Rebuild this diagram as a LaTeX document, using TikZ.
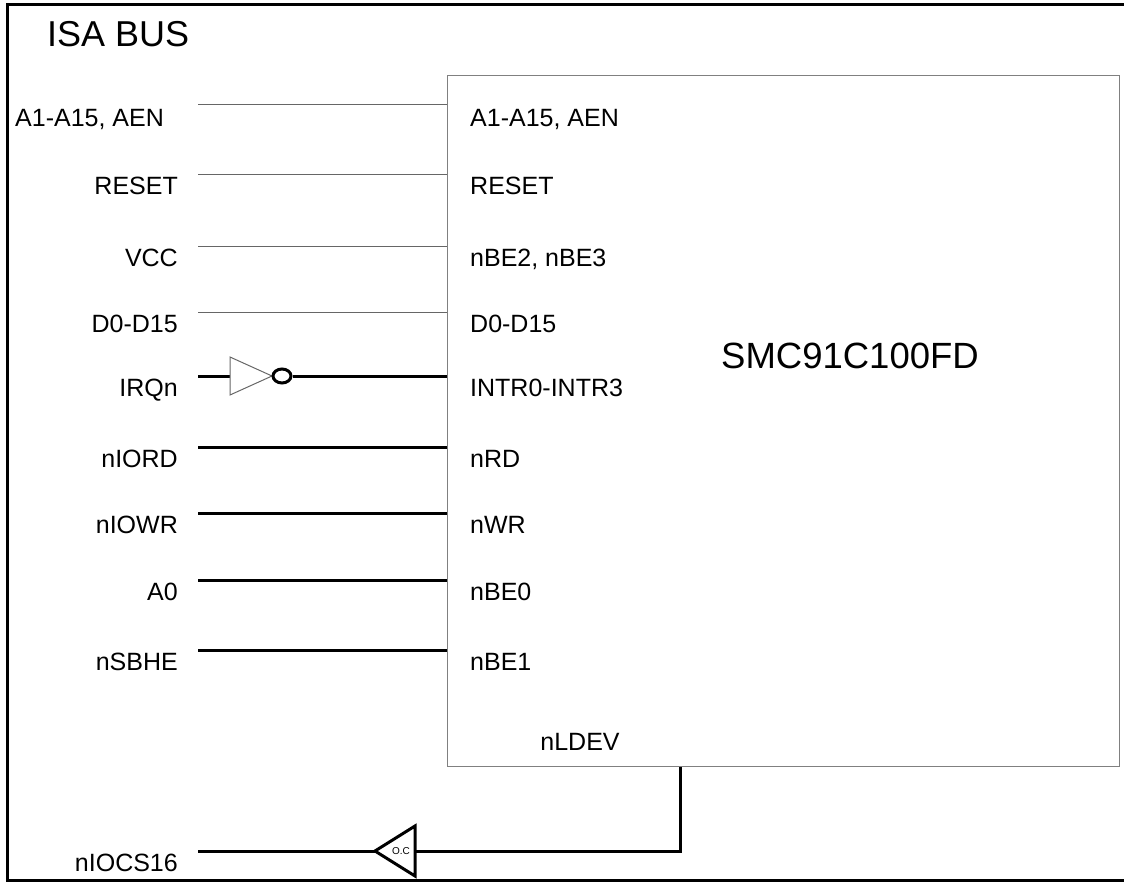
\documentclass[tikz,border=0pt]{standalone}
\usepackage{fontspec}
\setmainfont{Liberation Sans}
\usetikzlibrary{shapes.geometric}
\tikzset{
  frameline/.style={draw=black, line width=3pt},
  chipbox/.style={draw=black!50, line width=1.2pt, inner sep=0pt},
  thinwire/.style={draw=black!60, line width=1pt},
  thickwire/.style={draw=black, line width=3pt},
  gatethin/.style={draw=black!60, line width=1pt},
  gatethick/.style={draw=black, line width=3pt, line join=miter},
  buslabel/.style={anchor=base east, inner sep=0pt, font=\fontsize{25}{27}\selectfont},
  pinlabel/.style={anchor=base west, inner sep=0pt, font=\fontsize{25}{27}\selectfont},
}
\begin{document}
\begin{tikzpicture}[x=1pt,y=-1pt]
  \useasboundingbox (0,0) rectangle (1124,882);
  % outer frame of the bus
  \draw[frameline] (1126,5) -- (7,5) -- (7,880) -- (1126,880);
  \node[anchor=base west, inner sep=0pt, font=\fontsize{36}{38}\selectfont] (isa) at (47,47) {ISA BUS};

  % the chip
  \node[chipbox, anchor=north west, minimum width=672pt, minimum height=691pt] (chip) at (447,75) {};
  \node[anchor=base, inner sep=0pt, font=\fontsize{36.5}{38}\selectfont] (chipname) at (850,368) {SMC91C100FD};

  % thin wires
  \node[anchor=base west, inner sep=0pt, font=\fontsize{25}{27}\selectfont] (bA) at (15,127) {A1-A15, AEN};
  \node[pinlabel] (pA) at (470,127) {A1-A15, AEN};
  \coordinate (wA) at (198,105);
  \draw[thinwire] (wA) -- (chip.west |- wA);
  \foreach \n/\y/\bus/\pin/\wire in {R/175/RESET/RESET/thinwire,
      V/247/VCC/{nBE2, nBE3}/thinwire,
      D/313/D0-D15/D0-D15/thinwire,
      RD/447/nIORD/nRD/thickwire,
      WR/513/nIOWR/nWR/thickwire,
      Z/580/A0/nBE0/thickwire,
      H/650/nSBHE/nBE1/thickwire}{
    \node[buslabel] (b\n) at (178,\y+20) {\bus};
    \node[pinlabel] (p\n) at (470,\y+20) {\pin};
    \coordinate (w\n) at (198,\y);
    \draw[\wire] (w\n) -- (chip.west |- w\n);
  }

  % interrupt through the inverter
  \node[buslabel] (bI) at (178,396) {IRQn};
  \node[pinlabel] (pI) at (470,396) {INTR0-INTR3};
  \coordinate (wI) at (198,376);
  \coordinate (invin) at (230,376);
  \draw[thickwire] (wI) -- (invin);
  \draw[gatethin] (230,357) -- (272,376) -- (230,395) -- cycle;
  \node[draw, ellipse, line width=3pt, minimum width=18pt, minimum height=14pt, inner sep=0pt] (bub) at (282,376) {};
  \draw[thickwire] (bub.east) -- (chip.west |- bub);

  % nLDEV back to nIOCS16
  \node[anchor=base, inner sep=0pt, font=\fontsize{25}{27}\selectfont] (pL) at (580,750) {nLDEV};
  \coordinate (ldev) at (680,767);
  \coordinate (ocin) at (415,851);
  \coordinate (ocout) at (375,851);
  \draw[gatethick] (ocout) -- (415,826) -- (415,876) -- cycle;
  \node[inner sep=0pt, font=\fontsize{10}{11}\selectfont] (oc) at (401,851) {O.C};
  \draw[thickwire] (ldev) |- (ocin);
  \node[buslabel] (bC) at (178,871) {nIOCS16};
  \coordinate (wC) at (198,851);
  \draw[thickwire] (ocout) -- (wC);
\end{tikzpicture}
\end{document}
